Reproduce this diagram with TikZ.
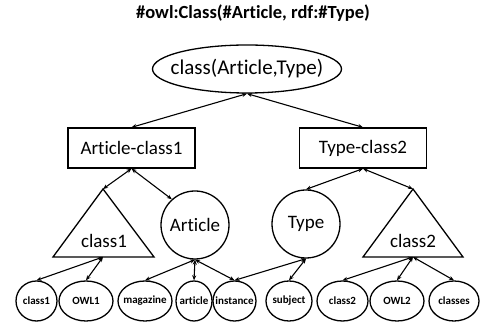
\documentclass[tikz,border=0pt]{standalone}
\usepackage{fontspec}
\setmainfont{Carlito}[Ligatures=NoCommon]
\usetikzlibrary{shapes.geometric,arrows.meta}
\tikzset{
  every picture/.style={x=1pt,y=-1pt},
  ln/.style={line width=1.3pt},
  conn/.style={line width=1.1pt,{Stealth[length=5pt,width=4pt]}-{Stealth[length=5pt,width=4pt]}},
  bigtxt/.style={font=\fontsize{19}{22}\selectfont},
  boxnode/.style={draw,ln,bigtxt,minimum width=127pt,minimum height=40pt,inner sep=0pt},
  circnode/.style={draw,ln,circle,minimum size=68pt,inner sep=0pt,label={[bigtxt]center:#1}},
  leaf/.style={draw,ln,ellipse,minimum height=40pt,inner sep=0pt,
    label={[font=\bfseries\fontsize{11}{13}\selectfont]center:#1}},
  trinode/.style={draw,ln,line join=miter}
}
\begin{document}
\begin{tikzpicture}
\useasboundingbox (0,0) rectangle (480,328);
\node[font=\bfseries\fontsize{18.5}{22}\selectfont] (title) at (253,13) {\#owl:Class(\#Article, rdf:\#Type)};
\node[draw,ln,ellipse,minimum width=189pt,minimum height=48pt,inner sep=0pt,
  label={[font=\fontsize{21}{24}\selectfont]center:class(Article,Type)}] (top) at (247,69) {};
\node[boxnode] (b1) at (131.5,148) {Article-class1};
\node[boxnode] (b2) at (363,148) {Type-class2};
% triangles
\coordinate (t1top) at (103,189);
\coordinate (t1base) at (103,257);
\draw[trinode] (t1top) -- (154,257) -- (53,257) -- cycle;
\node[bigtxt] (t1txt) at (104,241) {class1};
\coordinate (t2top) at (413,189);
\coordinate (t2base) at (413,257);
\draw[trinode] (t2top) -- (463,257) -- (363,257) -- cycle;
\node[bigtxt] (t2txt) at (413,241) {class2};
\node[circnode=Article] (art) at (195,225) {};
\node[circnode=Type] (typ) at (306,224) {};
% leaves
\node[leaf=class1,minimum width=41pt] (l1) at (36.5,301) {};
\node[leaf=OWL1,minimum width=54pt] (l2) at (86,301) {};
\node[leaf=magazine,minimum width=54pt] (l3) at (145,301) {};
\node[leaf=article,minimum width=36pt] (l4) at (194,301) {};
\node[leaf=instance,minimum width=43pt] (l5) at (234.5,301) {};
\node[leaf=subject,minimum width=46pt] (l6) at (289,301) {};
\node[leaf=class2,minimum width=51pt] (l7) at (342.5,301) {};
\node[leaf=OWL2,minimum width=54pt] (l8) at (397,301) {};
\node[leaf=classes,minimum width=50pt] (l9) at (454,301) {};
% connectors
\draw[conn] (top.south) -- (b1.north);
\draw[conn] (top.south) -- (b2.north);
\draw[conn] (b1.south) -- (t1top);
\draw[conn] (b1.south) -- (art.132);
\draw[conn] (b2.south) -- (typ.north);
\draw[conn] (b2.south) -- (t2top);
\draw[conn] (t1base) -- (l1.north);
\draw[conn] (t1base) -- (l2.north);
\draw[conn] (art.south) -- (l3.north);
\draw[conn] (art.south) -- (l4.north);
\draw[conn] (art.south) -- (l5.north);
\draw[conn] (typ.south) -- (l5.north);
\draw[conn] (typ.south) -- (l6.north);
\draw[conn] (t2base) -- (l7.north);
\draw[conn] (t2base) -- (l8.north);
\draw[conn] (t2base) -- (l9.north);
\end{tikzpicture}
\end{document}
